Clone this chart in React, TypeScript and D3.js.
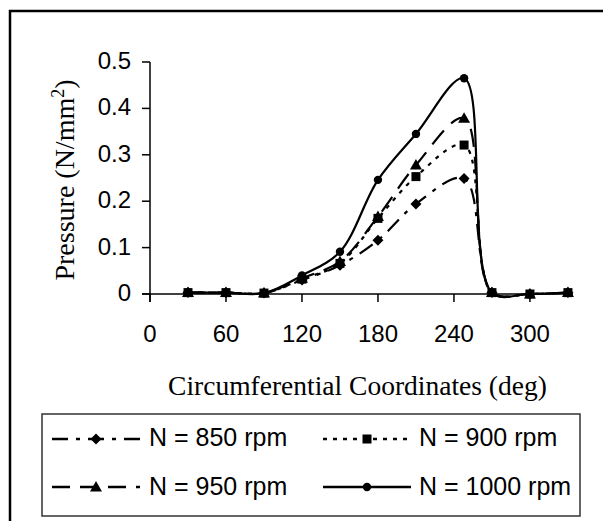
import React from "react";
import * as d3 from "d3";

const angles = [30, 60, 90, 120, 150, 180, 210, 248, 270, 300, 330];
const p850 = [0.003, 0.003, 0.002, 0.030, 0.062, 0.116, 0.194, 0.249, 0.003, 0.0, 0.003];
const p900 = [0.003, 0.003, 0.002, 0.032, 0.066, 0.163, 0.253, 0.321, 0.003, 0.0, 0.003];
const p950 = [0.003, 0.003, 0.002, 0.034, 0.070, 0.167, 0.278, 0.379, 0.003, 0.0, 0.003];
const p1000 = [0.003, 0.003, 0.002, 0.040, 0.091, 0.246, 0.345, 0.465, 0.003, 0.0, 0.003];
const seriesNames = ["N = 850 rpm", "N = 900 rpm", "N = 950 rpm", "N = 1000 rpm"];
const xTicks = [0, 60, 120, 180, 240, 300];
const yTicks = [0, 0.1, 0.2, 0.3, 0.4, 0.5];

const W = 603;
const H = 521;
const SANS = "Arial, 'Liberation Sans', sans-serif";
const SERIF = "'Times New Roman', 'Liberation Serif', serif";

type Sty = { dash: string; marker: string };
const styles: Sty[] = [
  { dash: "16,8,4,8", marker: "diamond" },
  { dash: "4,6", marker: "square" },
  { dash: "18,10", marker: "triangle" },
  { dash: "", marker: "circle" },
];

function Marker({ type, x, y }: { type: string; x: number; y: number }) {
  if (type === "diamond") {
    const r = 5.5;
    return <path d={`M${x},${y - r}L${x + r},${y}L${x},${y + r}L${x - r},${y}Z`} fill="#000" />;
  }
  if (type === "square") {
    const s = 9;
    return <rect x={x - s / 2} y={y - s / 2} width={s} height={s} fill="#000" />;
  }
  if (type === "triangle") {
    const r = 6;
    return <path d={`M${x},${y - r}L${x + r},${y + r * 0.75}L${x - r},${y + r * 0.75}Z`} fill="#000" />;
  }
  return <circle cx={x} cy={y} r={4.2} fill="#000" />;
}

export default function App() {
  const x = d3.scaleLinear().domain([0, 334]).range([150, 573]);
  const y = d3.scaleLinear().domain([0, 0.5]).range([294, 62]);
  const data = [p850, p900, p950, p1000];
  const line = d3
    .line<[number, number]>()
    .x((d) => x(d[0]))
    .y((d) => y(d[1]))
    .curve(d3.curveCatmullRom.alpha(0.5));

  const order = [0, 2, 3, 1];
  const legendRows = [
    { i: 0, lx: 52, tx: 149, ly: 439, ty: 446 },
    { i: 1, lx: 323, tx: 419, ly: 439, ty: 446 },
    { i: 2, lx: 52, tx: 149, ly: 487, ty: 495 },
    { i: 3, lx: 323, tx: 419, ly: 487, ty: 495 },
  ];

  return (
    <svg
      width={W}
      height={H}
      style={{ position: "absolute", left: 0, top: 0, background: "#fff" }}
    >
      <rect x={0} y={0} width={W} height={H} fill="#fff" />
      <rect x={10} y={11} width={700} height={600} fill="none" stroke="#000" strokeWidth={2.5} />

      {/* axes */}
      <line x1={x(0)} y1={y(0.5)} x2={x(0)} y2={y(0) + 8} stroke="#000" strokeWidth={1.5} />
      <line x1={x(0) - 8} y1={y(0)} x2={x(334)} y2={y(0)} stroke="#000" strokeWidth={1.5} />
      {yTicks.map((t) => (
        <g key={"y" + t}>
          <line x1={x(0) - 8} x2={x(0)} y1={y(t)} y2={y(t)} stroke="#000" strokeWidth={1.5} />
          <text x={131} y={y(t) + 7} textAnchor="end" fontFamily={SANS} fontSize={24} fill="#000">
            {t === 0 ? "0" : d3.format(".1f")(t)}
          </text>
        </g>
      ))}
      {xTicks.map((t) => (
        <g key={"x" + t}>
          <line x1={x(t)} x2={x(t)} y1={y(0)} y2={y(0) + 8} stroke="#000" strokeWidth={1.5} />
          <text x={x(t)} y={342} textAnchor="middle" fontFamily={SANS} fontSize={24} fill="#000">
            {t}
          </text>
        </g>
      ))}

      <text x={357.5} y={395} textAnchor="middle" fontFamily={SERIF} fontSize={27.5} fill="#000">
        Circumferential Coordinates (deg)
      </text>
      <text
        transform={`translate(74,180) rotate(-90)`}
        textAnchor="middle"
        fontFamily={SERIF}
        fontSize={28}
        fill="#000"
      >
        Pressure (N/mm
        <tspan fontSize={18} dy={-10}>
          2
        </tspan>
        <tspan dy={10}>)</tspan>
      </text>

      {/* series */}
      {order.map((i) => {
        const pts: [number, number][] = angles.map((a, k) => [a, data[i][k]]);
        return (
          <g key={"s" + i}>
            <path
              d={line(pts) || ""}
              fill="none"
              stroke="#000"
              strokeWidth={2.2}
              strokeDasharray={styles[i].dash || undefined}
            />
            {pts.map((p, k) => (
              <Marker key={k} type={styles[i].marker} x={x(p[0])} y={y(p[1])} />
            ))}
          </g>
        );
      })}

      {/* legend */}
      <rect x={42} y={414} width={538} height={102} fill="#fff" stroke="#333" strokeWidth={1.5} />
      {legendRows.map((r) => (
        <g key={"l" + r.i}>
          <line
            x1={r.lx}
            x2={r.lx + 88}
            y1={r.ly}
            y2={r.ly}
            stroke="#000"
            strokeWidth={2.5}
            strokeDasharray={styles[r.i].dash || undefined}
          />
          <Marker type={styles[r.i].marker} x={r.lx + 44} y={r.ly} />
          <text x={r.tx} y={r.ty} fontFamily={SANS} fontSize={25} fill="#000">
            {seriesNames[r.i]}
          </text>
        </g>
      ))}
    </svg>
  );
}
